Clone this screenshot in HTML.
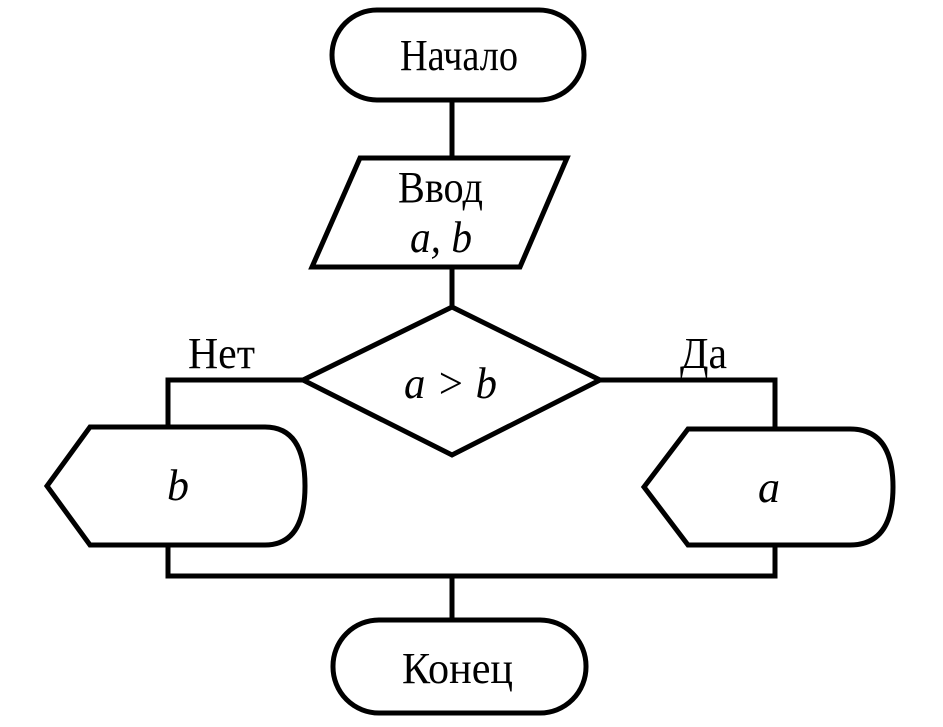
<!DOCTYPE html>
<html><head><meta charset="utf-8"><style>html,body{margin:0;padding:0;background:#fff}svg{display:block}</style></head>
<body>
<svg width="943" height="727" viewBox="0 0 943 727" xmlns="http://www.w3.org/2000/svg">
<g fill="none" stroke="#000" stroke-width="5" stroke-linejoin="miter">
<rect x="332" y="10" width="252" height="90" rx="45"/>
<line x1="452" y1="100" x2="452" y2="158"/>
<polygon points="360,158 567,158 520,267 312,267"/>
<line x1="452" y1="267" x2="452" y2="307"/>
<polygon points="452,307 600,380 452,455 303,380"/>
<polyline points="303,380 168,380 168,427"/>
<polyline points="600,380 775,380 775,429"/>
<path d="M90,427 L265,427 Q305,427 305,486 Q305,545 265,545 L90,545 L47,486 Z"/>
<path d="M688,429 L850,429 Q893,429 893,487 Q893,545 850,545 L688,545 L644,487 Z"/>
<polyline points="168,545 168,576 775,576 775,545"/>
<line x1="452" y1="576" x2="452" y2="620"/>
<rect x="333" y="620" width="253" height="93" rx="46"/>
</g>
<g font-family="Liberation Serif, serif" font-size="44" fill="#000" lengthAdjust="spacingAndGlyphs">
<text x="400" y="70" textLength="118" lengthAdjust="spacingAndGlyphs">Начало</text>
<text x="398" y="202" textLength="85" lengthAdjust="spacingAndGlyphs">Ввод</text>
<text x="410" y="252" textLength="62" lengthAdjust="spacingAndGlyphs" font-style="italic">a, b</text>
<text x="404" y="398" textLength="93" lengthAdjust="spacingAndGlyphs" font-style="italic">a &gt; b</text>
<text x="188" y="368" textLength="67" lengthAdjust="spacingAndGlyphs">Нет</text>
<text x="680" y="368" textLength="47" lengthAdjust="spacingAndGlyphs">Да</text>
<text x="167" y="500" font-style="italic">b</text>
<text x="758" y="502" font-style="italic">a</text>
<text x="402" y="683" textLength="111" lengthAdjust="spacingAndGlyphs">Конец</text>
</g>
</svg>
</body></html>
